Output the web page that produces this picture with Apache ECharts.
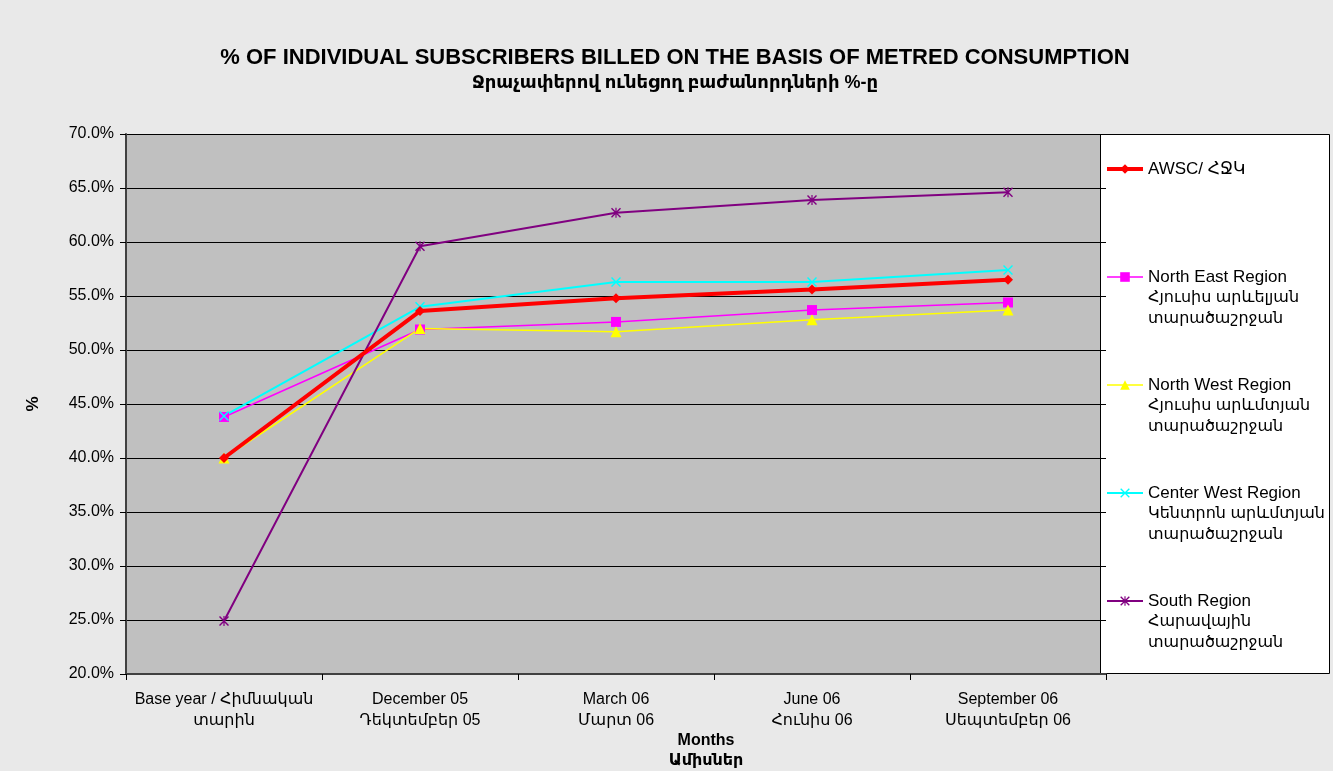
<!DOCTYPE html>
<html>
<head>
<meta charset="utf-8">
<script src="https://cdn.jsdelivr.net/npm/echarts@6/dist/echarts.min.js"></script>
<style>
  html, body { margin: 0; padding: 0; background: #e9e9e9; }
  #chart { width: 1333px; height: 771px; }
</style>
</head>
<body>
<div id="chart"></div>
<script>
// 数据
const months = [
  'Base year / Հիմնական\nտարին',
  'December 05\nԴեկտեմբեր 05',
  'March 06\nՄարտ 06',
  'June 06\nՀունիս 06',
  'September 06\nՍեպտեմբեր 06'
];
const awsc = [40.0, 53.6, 54.8, 55.6, 56.5];
const northEast = [43.8, 51.9, 52.6, 53.7, 54.4];
const northWest = [40.0, 52.0, 51.7, 52.8, 53.7];
const centerWest = [43.9, 54.0, 56.3, 56.3, 57.4];
const south = [24.9, 59.6, 62.7, 63.9, 64.6];
const yTicks = [20, 25, 30, 35, 40, 45, 50, 55, 60, 65, 70];

const FONT = 'Arial, "Liberation Sans", "DejaVu Sans", sans-serif';

// 符号: x 与 星号
const crossPath = 'path://M0,1L1,0L10,9L9,10Z M9,0L10,1L1,10L0,9Z';
const starPath = 'path://M0,1L1,0L10,9L9,10Z M9,0L10,1L1,10L0,9Z M4.4,0L5.6,0L5.6,10L4.4,10Z';

const seriesDefs = [
  { name: 'AWSC/ ՀՋԿ', data: awsc, color: '#ff0000', width: 4, symbol: 'diamond', size: 10 },
  { name: 'North East Region', data: northEast, color: '#ff00ff', width: 1.5, symbol: 'rect', size: 10 },
  { name: 'North West Region', data: northWest, color: '#ffff00', width: 1.5, symbol: 'triangle', size: 11 },
  { name: 'Center West Region', data: centerWest, color: '#00ffff', width: 2, symbol: crossPath, size: 10 },
  { name: 'South Region', data: south, color: '#800080', width: 2, symbol: starPath, size: 10 }
];
const legendSub = [
  '',
  'Հյուսիս արևելյան\nտարածաշրջան',
  'Հյուսիս արևմտյան\nտարածաշրջան',
  'Կենտրոն արևմտյան\nտարածաշրջան',
  'Հարավային\nտարածաշրջան'
];

const chart = echarts.init(document.getElementById('chart'));
chart.setOption({
  backgroundColor: '#e9e9e9',
  animation: false,
  title: {
    text: '% OF INDIVIDUAL SUBSCRIBERS BILLED ON THE BASIS OF METRED CONSUMPTION',
    subtext: 'Ջրաչափերով ունեցող բաժանորդների %-ը',
    left: 670,
    textAlign: 'center',
    top: 42,
    itemGap: 5,
    textStyle: { fontFamily: FONT, fontSize: 22, fontWeight: 'bold', color: '#000' },
    subtextStyle: { fontFamily: FONT, fontSize: 18, fontWeight: 'bold', color: '#000' }
  },
  grid: {
    left: 126, top: 134, right: 227, bottom: 97,
    show: true, backgroundColor: '#c0c0c0', borderWidth: 0
  },
  legend: {
    orient: 'vertical',
    left: 1100,
    top: 155,
    itemWidth: 36,
    itemHeight: 12,
    itemGap: 90,
    textStyle: { fontFamily: FONT, fontSize: 17, color: '#000', lineHeight: 18 },
    data: seriesDefs.map(s => ({ name: s.name, lineStyle: { width: s.width } }))
  },
  xAxis: {
    type: 'category',
    data: months,
    boundaryGap: true,
    axisLine: { lineStyle: { color: '#404040', width: 2 } },
    axisTick: { show: true, length: 6, lineStyle: { color: '#000' } },
    axisLabel: { interval: 0, fontFamily: FONT, fontSize: 16, color: '#000', lineHeight: 21, margin: 15 },
    splitLine: { show: false }
  },
  yAxis: {
    type: 'value',
    min: yTicks[0],
    max: yTicks[yTicks.length - 1],
    interval: yTicks[1] - yTicks[0],
    name: '%',
    nameLocation: 'middle',
    nameGap: 84,
    nameRotate: 90,
    nameTextStyle: { fontFamily: FONT, fontSize: 17, fontWeight: 'bold', color: '#000' },
    axisLine: { show: true, lineStyle: { color: '#404040', width: 2 } },
    axisTick: { show: true, length: 6, lineStyle: { color: '#000' } },
    axisLabel: { fontFamily: FONT, fontSize: 16, color: '#000', margin: 12, formatter: v => v.toFixed(1) + '%' },
    splitLine: { lineStyle: { color: '#000', width: 1 } }
  },
  graphic: [
    // 图例框
    { type: 'rect', z: 0, shape: { x: 1100.5, y: 134.5, width: 229, height: 539 },
      style: { fill: '#ffffff', stroke: '#000', lineWidth: 1 } },
    ...legendSub.map((t, i) => ({
      type: 'text', z: 5, x: 1148, y: 287 + (i - 1) * 108,
      style: { text: t, font: '16px ' + FONT, fill: '#000', lineHeight: 21 }
    })).filter((g, i) => legendSub[i]),
    // 横轴标题
    { type: 'text', z: 5, x: 706, y: 731,
      style: { text: 'Months\nԱմիսներ', font: 'bold 16px ' + FONT, fill: '#000', align: 'center', lineHeight: 20 } }
  ],
  series: seriesDefs.map(s => ({
    name: s.name,
    type: 'line',
    data: s.data,
    symbol: s.symbol,
    symbolSize: s.size,
    lineStyle: { color: s.color, width: s.width },
    itemStyle: { color: s.color },
    z: s.name === 'AWSC/ ՀՋԿ' ? 3 : 2
  }))
});
</script>
</body>
</html>
